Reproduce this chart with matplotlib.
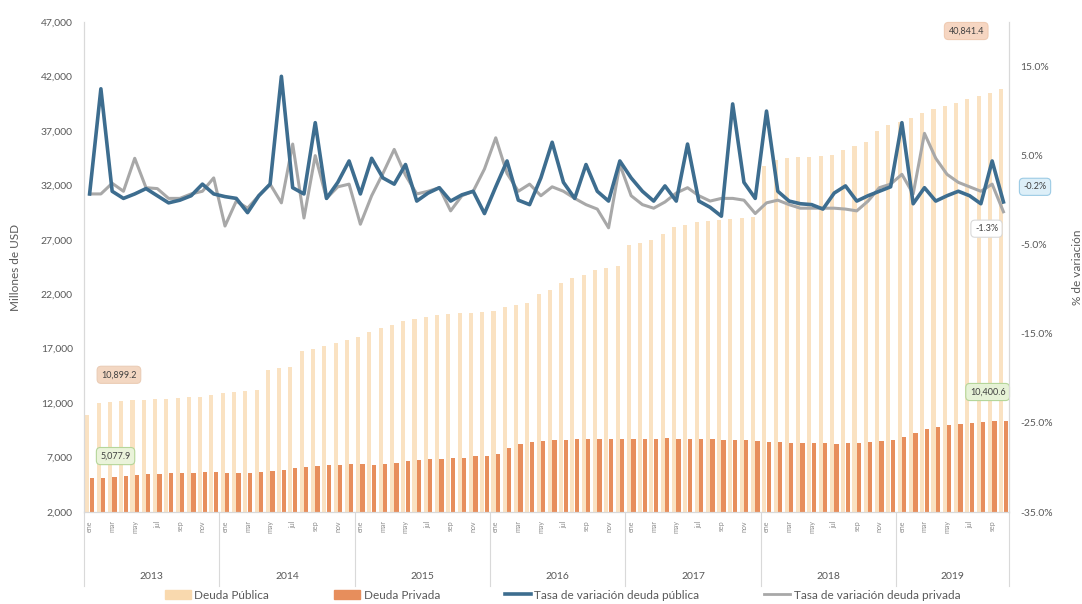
import numpy as np
import matplotlib
matplotlib.use("Agg")
import matplotlib.pyplot as plt
from matplotlib.transforms import blended_transform_factory
from matplotlib.patches import Patch
from matplotlib.lines import Line2D

plt.rcParams['font.family'] = ['Lato', 'DejaVu Sans']

# --- data (monthly, Jan 2013 - Oct 2019) ---
years = ["2013", "2014", "2015", "2016", "2017", "2018", "2019"]
months_per_year = [12, 12, 12, 12, 12, 12, 10]
month_abbr = ["ene", "feb", "mar", "abr", "may", "jun", "jul", "ago", "sep", "oct", "nov", "dic"]

deuda_publica = [
    10899.2, 12000, 12100, 12200, 12300, 12300, 12400, 12400, 12500, 12600, 12600, 12700,
    12900, 13000, 13100, 13200, 15000, 15200, 15300, 16800, 17000, 17200, 17500, 17800,
    18100, 18500, 18900, 19200, 19500, 19700, 19900, 20100, 20200, 20300, 20300, 20400,
    20500, 20800, 21000, 21200, 22000, 22400, 23000, 23500, 23800, 24200, 24400, 24600,
    26500, 26700, 27000, 27500, 28200, 28400, 28600, 28700, 28800, 28900, 29000, 29100,
    33800, 34300, 34500, 34600, 34600, 34700, 34800, 35200, 35600, 36000, 37000, 37500,
    37800, 38200, 38600, 39000, 39300, 39600, 39900, 40200, 40500, 40841.4,
]
deuda_privada = [
    5077.9, 5100, 5200, 5300, 5400, 5500, 5500, 5600, 5600, 5600, 5700, 5700,
    5600, 5600, 5600, 5700, 5800, 5900, 6000, 6100, 6200, 6300, 6300, 6400,
    6400, 6300, 6400, 6500, 6700, 6800, 6900, 6900, 7000, 7000, 7100, 7100,
    7300, 7900, 8200, 8400, 8500, 8600, 8600, 8700, 8700, 8700, 8700, 8700,
    8700, 8700, 8700, 8800, 8700, 8700, 8700, 8700, 8600, 8600, 8600, 8500,
    8400, 8400, 8300, 8300, 8300, 8300, 8200, 8300, 8300, 8400, 8500, 8600,
    8900, 9300, 9600, 9800, 10000, 10100, 10200, 10300, 10400, 10400.6,
]
tasa_publica = [
    0.7, 12.5, 1.0, 0.2, 0.7, 1.3, 0.5, -0.3, 0.0, 0.5, 1.8, 0.7,
    0.4, 0.2, -1.4, 0.5, 1.8, 13.9, 1.4, 0.7, 8.7, 0.2, 2.0, 4.4,
    0.7, 4.7, 2.5, 1.8, 4.0, -0.1, 0.8, 1.4, -0.1, 0.6, 1.0, -1.5,
    1.5, 4.4, 0.0, -0.5, 2.5, 6.5, 2.0, 0.2, 4.0, 1.0, -0.1, 4.4,
    2.5, 1.0, -0.1, 1.6, -0.1, 6.3, -0.1, -0.8, -1.8, 10.8, 2.0, 0.2,
    10.0, 1.0, -0.1, -0.4, -0.5, -1.0, 0.8, 1.6, -0.1, 0.5, 1.0, 1.5,
    8.7, -0.4, 1.4, -0.1, 0.5, 1.0, 0.5, -0.4, 4.4, -0.2,
]
tasa_privada = [
    0.7, 0.7, 1.9, 1.0, 4.7, 1.4, 1.3, 0.2, 0.2, 0.7, 1.0, 2.5,
    -2.9, -0.1, -0.9, 0.5, 1.8, -0.3, 6.3, -2.0, 5.0, 0.2, 1.5, 1.8,
    -2.7, 0.5, 3.0, 5.7, 2.8, 0.7, 1.0, 1.4, -1.2, 0.5, 1.0, 3.5,
    7.0, 3.0, 1.0, 1.8, 0.5, 1.5, 1.0, 0.2, -0.5, -1.0, -3.1, 4.0,
    0.5, -0.5, -0.9, -0.2, 0.8, 1.4, 0.5, -0.1, 0.2, 0.2, 0.0, -1.5,
    -0.3, 0.0, -0.5, -0.9, -0.9, -0.9, -0.9, -1.0, -1.2, -0.1, 1.4, 1.8,
    2.9, 0.7, 7.5, 4.7, 2.9, 2.0, 1.5, 1.0, 1.8, -1.3,
]

# --- styling ---
c_pub = "#FAE2C2"
c_priv = "#E78E5C"
c_line_pub = "#3D6D8F"
c_line_priv = "#A8A8A8"
c_text = "#595959"
c_axis = "#D9D9D9"

x = np.arange(len(deuda_publica))
n = len(x)

fig = plt.figure(figsize=(10.82, 6.04), dpi=100)
ax = fig.add_axes([0.0776, 0.1523, 0.855, 0.8113])
ax2 = ax.twinx()

ax.bar(x - 0.2, deuda_publica, width=0.36, color=c_pub, zorder=2)
ax.bar(x + 0.2, deuda_privada, width=0.38, color=c_priv, zorder=2)

ax.set_ylim(2000, 47000)
ax.set_yticks(np.arange(2000, 47001, 5000))
ax.set_yticklabels([f"{v:,}" for v in range(2000, 47001, 5000)])
ax.set_xlim(-0.5, n - 0.5)
ax.set_ylabel("Millones de USD", fontsize=8.5, color=c_text, labelpad=14)

ax2.plot(x, tasa_privada, color=c_line_priv, lw=2.2, solid_joinstyle="round", zorder=3)
ax2.plot(x, tasa_publica, color=c_line_pub, lw=2.6, solid_joinstyle="round", zorder=4)
ax2.set_ylim(-35, 20)
ax2.set_yticks(np.arange(-35, 16, 10))
ax2.set_yticklabels([f"{v:.1f}%" for v in np.arange(-35, 16, 10)])
ax2.set_ylabel("% de variación", fontsize=8.5, color=c_text, rotation=90, labelpad=14)

for a in (ax, ax2):
    a.spines["top"].set_visible(False)
    for s in ("left", "right", "bottom"):
        a.spines[s].set_color(c_axis)
    a.tick_params(axis="y", labelsize=7.5, labelcolor=c_text, length=0, pad=8)

# month tick labels, every other month
month_labels = []
for yi, cnt in enumerate(months_per_year):
    for m in range(cnt):
        month_labels.append(month_abbr[m])
ax.set_xticks(x[::2])
ax.set_xticklabels(month_labels[::2], rotation=90, fontsize=5, color="#8C8C8C")
ax.tick_params(axis="x", length=0, pad=6)

# year groups and separators
trans = blended_transform_factory(ax.transData, ax.transAxes)
start = 0
for yr, cnt in zip(years, months_per_year):
    ax.text(start + (cnt - 1) / 2, -0.132, yr, transform=trans, ha="center", va="center",
            fontsize=7.5, color=c_text)
    ax.plot([start - 0.5, start - 0.5], [0, -0.15], transform=trans, color=c_axis,
            lw=0.8, clip_on=False)
    start += cnt
ax.plot([n - 0.5, n - 0.5], [0, -0.15], transform=trans, color=c_axis, lw=0.8, clip_on=False)

# data labels
def label(axis, xv, yv, txt, fc, ec):
    axis.text(xv, yv, txt, ha="center", va="center", fontsize=6.5, color="#404040",
              bbox=dict(boxstyle="round,pad=0.45", fc=fc, ec=ec, lw=0.8), zorder=6, clip_on=False)

label(ax, x[0] + 2.6, deuda_publica[0] + 3700, f"{deuda_publica[0]:,.1f}", "#F3D7C2", "#EBCDB6")
label(ax, x[0] + 2.3, deuda_privada[0] + 2060, f"{deuda_privada[0]:,.1f}", "#EAF3DA", "#B5D69A")
label(ax, x[-1] - 3.3, deuda_publica[-1] + 5330, f"{deuda_publica[-1]:,.1f}", "#F6D6C2", "#EFCBB3")
label(ax, x[-1] - 1.4, deuda_privada[-1] + 2620, f"{deuda_privada[-1]:,.1f}", "#E6F2D6", "#B5D69A")
label(ax2, x[-1] + 2.8, 1.5, f"{tasa_publica[-1]:.1f}%", "#DDEFF8", "#9CCBE5")
label(ax2, x[-1] - 1.5, -3.2, f"{tasa_privada[-1]:.1f}%", "#FFFFFF", "#D9D9D9")

# legend
handles = [
    Patch(color="#F9D9AE", label="Deuda Pública"),
    Patch(color=c_priv, label="Deuda Privada"),
    Line2D([], [], color=c_line_pub, lw=2.6, label="Tasa de variación deuda pública"),
    Line2D([], [], color=c_line_priv, lw=2.0, label="Tasa de variación deuda privada"),
]
fig.legend(handles=handles, loc="lower center", bbox_to_anchor=(0.52, -0.012), ncol=4,
           frameon=False, fontsize=8.5, labelcolor=c_text, handlelength=2.2,
           columnspacing=5.5, handletextpad=0.3)

fig.savefig("out.png", dpi=100)
